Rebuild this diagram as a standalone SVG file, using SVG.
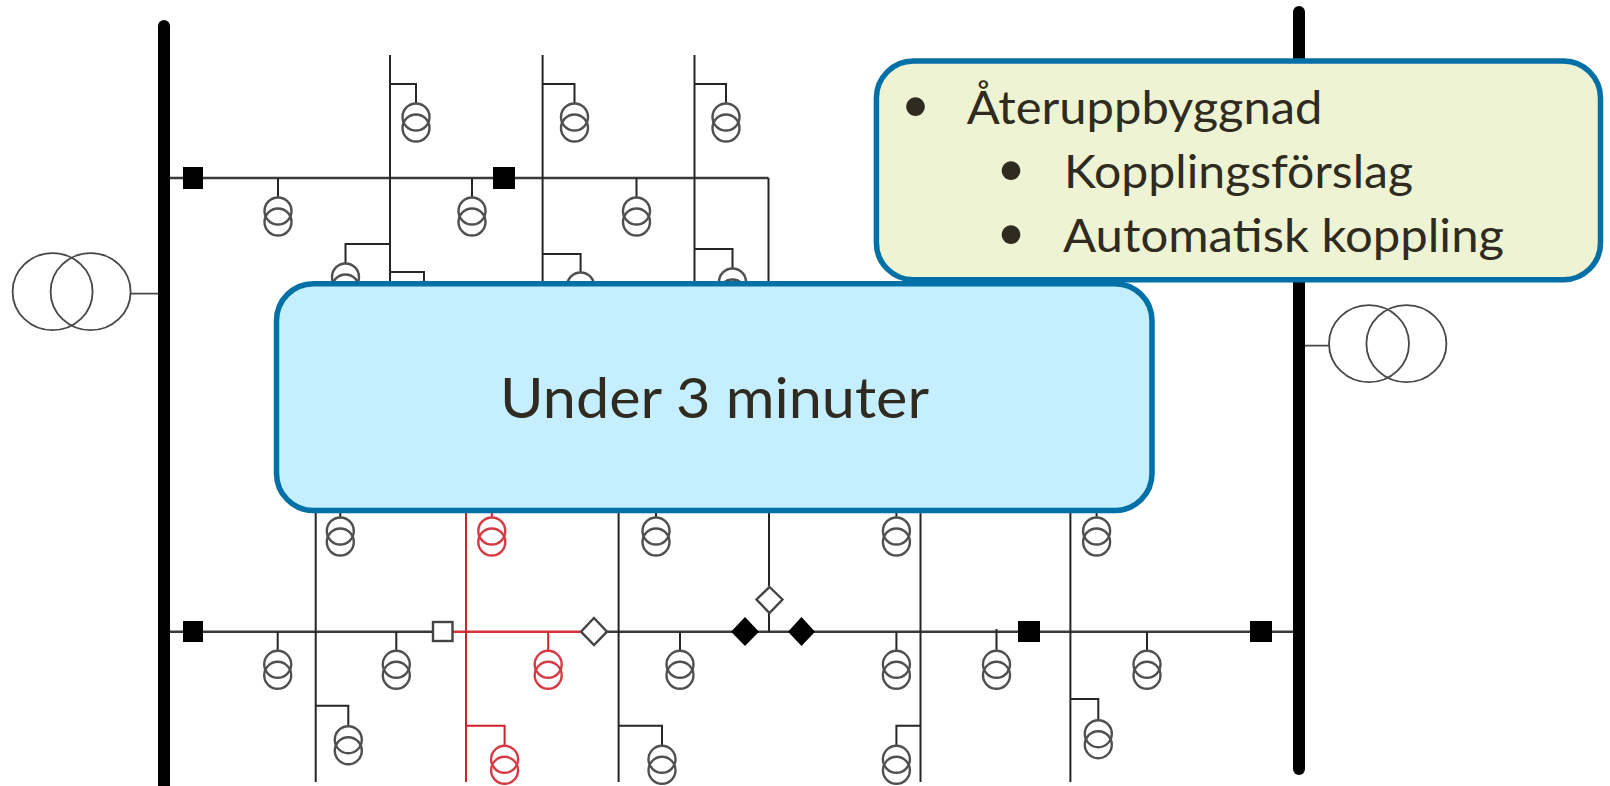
<svg xmlns="http://www.w3.org/2000/svg" width="1610" height="786" viewBox="0 0 1610 786">
<style>
.w{fill:none;stroke:#262626;stroke-width:2}
.h{fill:none;stroke:#3a3a3a;stroke-width:2.6}
.r{fill:none;stroke:#d0222c;stroke-width:2}
.rh{fill:none;stroke:#d8323c;stroke-width:2.6}
.bus{fill:none;stroke:#000;stroke-width:12;stroke-linecap:round}
.big{fill:none;stroke:#484848;stroke-width:1.8}
.xf{fill:none;stroke:#505050;stroke-width:2.4}
.xr{fill:none;stroke:#d63a44;stroke-width:2.4}
.blk{fill:#000}
.wht{fill:#fff;stroke:#444;stroke-width:2.4}
.box{stroke:#0070a6;stroke-width:5.5}
text{font-family:Lato,"Open Sans","Liberation Sans",sans-serif;fill:#2f2b20}
.t{font-size:47px}
.u{font-size:57px}
.b{font-size:50px;text-anchor:middle}
</style>
<defs>
<g id="x"><circle cx="0" cy="14" r="13.500"/><circle cx="0" cy="25" r="13.500"/></g>
</defs>
<g id="connectors">
<path class="h" d="M165 178H768.500"/>
<path class="w" d="M768.500 178V300M390 55V300M542.600 55V300M694.500 55V300"/>
<path class="w" d="M390 84H416V103M542.600 84H574.500V103M694.500 84H726V103"/>
<path class="w" d="M278 178V197M472 178V197M636.500 178V197"/>
<path class="w" d="M390 244H345.500V263M390 272H424V300M542.600 254H580.600V272M694.500 249H732.500V268"/>
<path class="big" d="M131 293.700H160M1305 345.700H1329"/>
<path class="h" d="M165 631.700H452M607 631.700H1293"/>
<path class="rh" d="M453 631.700H580"/>
<path class="w" d="M315.700 500V782M618.600 500V782M920.500 500V782M1070.400 500V782M769 500V586M769 613V632"/>
<path class="r" d="M466 500V782M466 725.700H504.600V745.300M548.200 632V650.300M491.800 500V517"/>
<path class="w" d="M340.300 500V517M656 500V517M896.400 500V517M1096.600 500V517"/>
<path class="w" d="M277.700 632V650.300M396.300 632V650.300M680 632V650.300M896.400 632V650.300M996.500 629V650.300M1147 632V650.300"/>
<path class="w" d="M315.700 705.700H348.300V725.700M618.600 725.700H662V745.300M920.500 725.700H896.400V745.300M1070.400 699H1098.300V719.700"/>
</g>
<g id="bus-left"><path class="bus" d="M164 26V790"/></g>
<g id="bus-right"><path class="bus" d="M1299 12V769"/></g>
<g id="grid-transformer-left" class="big"><ellipse cx="52.600" cy="291.700" rx="40" ry="38.500"/><ellipse cx="90.600" cy="291.700" rx="40" ry="38.500"/></g>
<g id="grid-transformer-right" class="big"><ellipse cx="1369" cy="343.700" rx="40" ry="38.500"/><ellipse cx="1406.400" cy="343.700" rx="40" ry="38.500"/></g>
<g id="xf-t1" class="xf"><use href="#x" x="416" y="103"/></g>
<g id="xf-t2" class="xf"><use href="#x" x="574.500" y="103"/></g>
<g id="xf-t3" class="xf"><use href="#x" x="726" y="103"/></g>
<g id="xf-t4" class="xf"><use href="#x" x="278" y="197"/></g>
<g id="xf-t5" class="xf"><use href="#x" x="472" y="197"/></g>
<g id="xf-t6" class="xf"><use href="#x" x="636.500" y="197"/></g>
<g id="xf-t7" class="xf"><use href="#x" x="345.500" y="263"/></g>
<g id="xf-t8" class="xf"><use href="#x" x="580.600" y="272"/></g>
<g id="xf-t9" class="xf"><use href="#x" x="732.500" y="268"/></g>
<g id="xf-b1" class="xf"><use href="#x" x="340.300" y="517"/></g>
<g id="xf-b2" class="xr"><use href="#x" x="491.800" y="517"/></g>
<g id="xf-b3" class="xf"><use href="#x" x="656" y="517"/></g>
<g id="xf-b4" class="xf"><use href="#x" x="896.400" y="517"/></g>
<g id="xf-b5" class="xf"><use href="#x" x="1096.600" y="517"/></g>
<g id="xf-b6" class="xf"><use href="#x" x="277.700" y="650.300"/></g>
<g id="xf-b7" class="xf"><use href="#x" x="396.300" y="650.300"/></g>
<g id="xf-b8" class="xr"><use href="#x" x="548.200" y="650.300"/></g>
<g id="xf-b9" class="xf"><use href="#x" x="680" y="650.300"/></g>
<g id="xf-b10" class="xf"><use href="#x" x="896.400" y="650.300"/></g>
<g id="xf-b11" class="xf"><use href="#x" x="996.500" y="650.300"/></g>
<g id="xf-b12" class="xf"><use href="#x" x="1147" y="650.300"/></g>
<g id="xf-b13" class="xf"><use href="#x" x="348.300" y="725.700"/></g>
<g id="xf-b14" class="xr"><use href="#x" x="504.600" y="745.300"/></g>
<g id="xf-b15" class="xf"><use href="#x" x="662" y="745.300"/></g>
<g id="xf-b16" class="xf"><use href="#x" x="896.400" y="745.300"/></g>
<g id="xf-b17" class="xf"><use href="#x" x="1098.300" y="719.700"/></g>
<g id="breaker-1"><rect class="blk" x="183" y="167" width="20" height="22"/></g>
<g id="breaker-2"><rect class="blk" x="493" y="167" width="22" height="22"/></g>
<g id="breaker-3"><rect class="blk" x="183" y="621" width="20" height="21"/></g>
<g id="breaker-4"><rect class="wht" x="433" y="622" width="19.500" height="19"/></g>
<g id="breaker-5"><rect class="blk" x="1018" y="621" width="22" height="21"/></g>
<g id="breaker-6"><rect class="blk" x="1250" y="621" width="22" height="21"/></g>
<g id="switch-1"><path class="wht" d="M594 618L607 631.700L594 645L581 631.700Z"/></g>
<g id="switch-2"><path class="blk" d="M745 617L759 631.700L745 646L731 631.700Z"/></g>
<g id="switch-3"><path class="blk" d="M801.500 617L815 631.700L801.500 646L788 631.700Z"/></g>
<g id="switch-4"><path class="wht" d="M769.500 587L782.500 599.500L769.500 613L756.500 599.500Z"/></g>
<g id="box-time">
<rect class="box" x="276.500" y="283.700" width="875.500" height="226.800" rx="37" ry="37" fill="#c5eeff"/>
<text class="u" x="500" y="418" textLength="429" lengthAdjust="spacingAndGlyphs">Under 3 minuter</text>
</g>
<g id="box-steps">
<rect class="box" x="876.400" y="61" width="724.100" height="218.700" rx="37" ry="37" fill="#eef3d3"/>
<text class="b" x="915.400" y="122">•</text>
<text class="t" x="966.700" y="124" textLength="355.800" lengthAdjust="spacingAndGlyphs">Återuppbyggnad</text>
<text class="b" x="1011" y="186">•</text>
<text class="t" x="1064" y="188" textLength="349" lengthAdjust="spacingAndGlyphs">Kopplingsförslag</text>
<text class="b" x="1011" y="250">•</text>
<text class="t" x="1063" y="251.700" textLength="441" lengthAdjust="spacingAndGlyphs">Automatisk koppling</text>
</g>
</svg>
